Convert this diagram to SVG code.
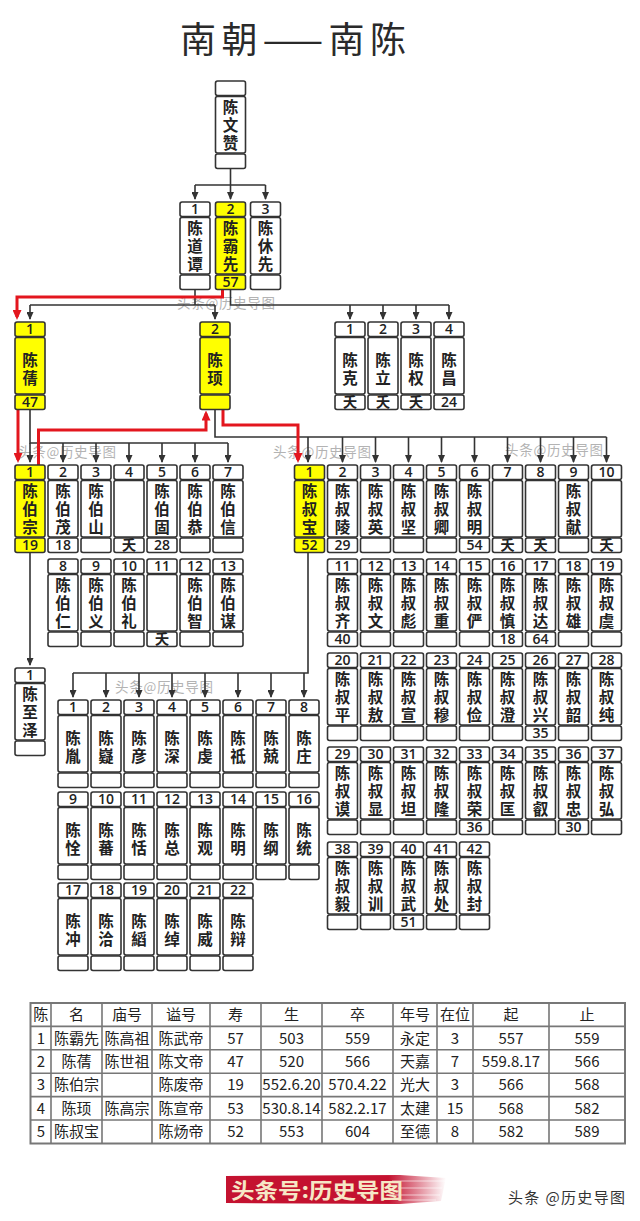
<svg xmlns="http://www.w3.org/2000/svg" width="640" height="1221" viewBox="0 0 640 1221">
<style>
.bx{fill:#fff;stroke:#333;stroke-width:1.6}
.by{fill:#ffff00;stroke:#333;stroke-width:1.6}
.num{font-family:"Open Sans","Noto Sans CJK SC",sans-serif;font-weight:600;font-size:14px;fill:#222;text-anchor:middle}
.v{font-family:"Noto Sans CJK SC",sans-serif;font-weight:700;font-size:15.5px;fill:#222;writing-mode:vertical-rl}
.k{fill:none;stroke:#333;stroke-width:1.6}
.r{fill:none;stroke:#e3161e;stroke-width:3}
.wm{font-family:"Noto Sans CJK SC",sans-serif;font-size:13.5px;fill:#9a9a9a;opacity:.75}
.tb{font-family:"Noto Sans CJK SC",sans-serif;font-size:15px;fill:#222;text-anchor:middle}
.title{font-family:"Noto Sans CJK SC",sans-serif;font-size:36px;fill:#2a2a2a;text-anchor:middle}
</style>
<defs>
<g id="fr" class="bx"><rect width="30" height="14.5" rx="2"/><rect y="15.5" width="30" height="56.5" rx="2"/><rect y="73" width="30" height="14.5" rx="2"/></g>
<g id="fy" class="by"><rect width="30" height="14.5" rx="2"/><rect y="15.5" width="30" height="56.5" rx="2"/><rect y="73" width="30" height="14.5" rx="2"/></g>
<marker id="ak" viewBox="0 0 8 7" refX="7" refY="3.5" markerWidth="8" markerHeight="7" markerUnits="userSpaceOnUse" orient="auto"><path d="M0,0 L8,3.5 L0,7 z" fill="#333"/></marker>
<marker id="ar" viewBox="0 0 10 9" refX="7" refY="4.5" markerWidth="10" markerHeight="9" markerUnits="userSpaceOnUse" orient="auto"><path d="M0,0 L10,4.5 L0,9 z" fill="#e3161e"/></marker>
<linearGradient id="brush" x1="0" x2="1" y1="0" y2="0"><stop offset="0" stop-color="#c41230"/><stop offset="0.74" stop-color="#c41230"/><stop offset="1" stop-color="#c41230" stop-opacity="0"/></linearGradient>
</defs>
<rect width="640" height="1221" fill="#fff"/>
<text class="title" x="293" y="52.5" textLength="226" lengthAdjust="spacing">南朝——南陈</text>

<g id="watermarks">
<text class="wm" x="177" y="307.5" textLength="98">头条@历史导图</text>
<text class="wm" x="18" y="457" textLength="98">头条@历史导图</text>
<text class="wm" x="273" y="457" textLength="98">头条@历史导图</text>
<text class="wm" x="505" y="455" textLength="98">头条@历史导图</text>
<text class="wm" x="115" y="692" textLength="98">头条@历史导图</text>
</g>

<g id="connectors">
<path class="k" d="M230.5,168.5V185M195,185H265.5"/>
<path class="k" marker-end="url(#ak)" d="M195,185V199"/>
<path class="k" marker-end="url(#ak)" d="M230.5,185V199"/>
<path class="k" marker-end="url(#ak)" d="M265.5,185V199"/>
<path class="k" d="M195,289.5V305M30,305H215"/>
<path class="k" marker-end="url(#ak)" d="M30,305V319"/>
<path class="k" marker-end="url(#ak)" d="M215,305V319"/>
<path class="k" d="M230.5,289.5V305H449"/>
<path class="k" marker-end="url(#ak)" d="M350,305V319"/>
<path class="k" marker-end="url(#ak)" d="M383,305V319"/>
<path class="k" marker-end="url(#ak)" d="M416,305V319"/>
<path class="k" marker-end="url(#ak)" d="M449,305V319"/>
<path class="k" d="M30,409.5V443H228"/>
<path class="k" marker-end="url(#ak)" d="M30,443V462"/>
<path class="k" marker-end="url(#ak)" d="M63,443V462"/>
<path class="k" marker-end="url(#ak)" d="M96,443V462"/>
<path class="k" marker-end="url(#ak)" d="M129,443V462"/>
<path class="k" marker-end="url(#ak)" d="M162,443V462"/>
<path class="k" marker-end="url(#ak)" d="M195,443V462"/>
<path class="k" marker-end="url(#ak)" d="M228,443V462"/>
<path class="k" d="M215,409.5V437H606.5"/>
<path class="k" marker-end="url(#ak)" d="M308,437V462"/>
<path class="k" marker-end="url(#ak)" d="M342.5,437V462"/>
<path class="k" marker-end="url(#ak)" d="M375.5,437V462"/>
<path class="k" marker-end="url(#ak)" d="M408.5,437V462"/>
<path class="k" marker-end="url(#ak)" d="M441.5,437V462"/>
<path class="k" marker-end="url(#ak)" d="M474.5,437V462"/>
<path class="k" marker-end="url(#ak)" d="M507.5,437V462"/>
<path class="k" marker-end="url(#ak)" d="M540.5,437V462"/>
<path class="k" marker-end="url(#ak)" d="M573.5,437V462"/>
<path class="k" marker-end="url(#ak)" d="M606.5,437V462"/>
<path class="k" marker-end="url(#ak)" d="M30,552.5V665"/>
<path class="k" d="M308,552.5V673H73"/>
<path class="k" marker-end="url(#ak)" d="M73,673V697"/>
<path class="k" marker-end="url(#ak)" d="M106,673V697"/>
<path class="k" marker-end="url(#ak)" d="M139,673V697"/>
<path class="k" marker-end="url(#ak)" d="M172,673V697"/>
<path class="k" marker-end="url(#ak)" d="M205,673V697"/>
<path class="k" marker-end="url(#ak)" d="M238,673V697"/>
<path class="k" marker-end="url(#ak)" d="M271,673V697"/>
<path class="k" marker-end="url(#ak)" d="M304,673V697"/>
<path class="r" marker-end="url(#ar)" d="M222.5,289.5V297H17V317"/>
<path class="r" marker-end="url(#ar)" d="M18,409.5V460"/>
<path class="r" marker-end="url(#ar)" d="M38.5,465V430H206V413.5"/>
<path class="r" marker-end="url(#ar)" d="M223,409.5V425H298V460"/>
</g>

<g id="n-chenwenzan"><use href="#fr" x="215.5" y="81"/><text class="v" x="230.5" y="99.2 117.4 135.6">陈文赞</text></g>

<g id="n-chendaotan"><use href="#fr" x="180" y="202"/><text class="num" x="195" y="214.4">1</text><text class="v" x="195" y="220.2 238.4 256.6">陈道谭</text></g>
<g id="n-chenbaxian"><use href="#fy" x="215.5" y="202"/><text class="num" x="230.5" y="214.4">2</text><text class="v" x="230.5" y="220.2 238.4 256.6">陈霸先</text><text class="num" x="230.5" y="287">57</text></g>
<g id="n-chenxiuxian"><use href="#fr" x="250.5" y="202"/><text class="num" x="265.5" y="214.4">3</text><text class="v" x="265.5" y="220.2 238.4 256.6">陈休先</text></g>

<g id="n-chenqian"><use href="#fy" x="15" y="322"/><text class="num" x="30" y="334.4">1</text><text class="v" x="30" y="352.25 370.25">陈蒨</text><text class="num" x="30" y="407.3">47</text></g>
<g id="n-chenxu"><use href="#fy" x="200" y="322"/><text class="num" x="215" y="334.4">2</text><text class="v" x="215" y="352.25 370.25">陈顼</text></g>
<g id="n-chenke"><use href="#fr" x="335" y="322"/><text class="num" x="350" y="334.4">1</text><text class="v" x="350" y="352.25 370.25">陈克</text><text class="num" x="350" y="407.3">夭</text></g>
<g id="n-chenli"><use href="#fr" x="368" y="322"/><text class="num" x="383" y="334.4">2</text><text class="v" x="383" y="352.25 370.25">陈立</text><text class="num" x="383" y="407.3">夭</text></g>
<g id="n-chenquan"><use href="#fr" x="401" y="322"/><text class="num" x="416" y="334.4">3</text><text class="v" x="416" y="352.25 370.25">陈权</text><text class="num" x="416" y="407.3">夭</text></g>
<g id="n-chenchang"><use href="#fr" x="434" y="322"/><text class="num" x="449" y="334.4">4</text><text class="v" x="449" y="352.25 370.25">陈昌</text><text class="num" x="449" y="407.3">24</text></g>

<g id="n-chenbozong"><use href="#fy" x="15" y="465"/><text class="num" x="30" y="477.4">1</text><text class="v" x="30" y="483.2 501.4 519.6">陈伯宗</text><text class="num" x="30" y="550.3">19</text></g>
<g id="n-chenbomao"><use href="#fr" x="48" y="465"/><text class="num" x="63" y="477.4">2</text><text class="v" x="63" y="483.2 501.4 519.6">陈伯茂</text><text class="num" x="63" y="550.3">18</text></g>
<g id="n-chenboshan"><use href="#fr" x="81" y="465"/><text class="num" x="96" y="477.4">3</text><text class="v" x="96" y="483.2 501.4 519.6">陈伯山</text></g>
<g id="n-bo4"><use href="#fr" x="114" y="465"/><text class="num" x="129" y="477.4">4</text><text class="num" x="129" y="550.3">夭</text></g>
<g id="n-chenbogu"><use href="#fr" x="147" y="465"/><text class="num" x="162" y="477.4">5</text><text class="v" x="162" y="483.2 501.4 519.6">陈伯固</text><text class="num" x="162" y="550.3">28</text></g>
<g id="n-chenbogong"><use href="#fr" x="180" y="465"/><text class="num" x="195" y="477.4">6</text><text class="v" x="195" y="483.2 501.4 519.6">陈伯恭</text></g>
<g id="n-chenboxin"><use href="#fr" x="213" y="465"/><text class="num" x="228" y="477.4">7</text><text class="v" x="228" y="483.2 501.4 519.6">陈伯信</text></g>
<g id="n-chenboren"><use href="#fr" x="48" y="559"/><text class="num" x="63" y="571.4">8</text><text class="v" x="63" y="577.2 595.4 613.6">陈伯仁</text></g>
<g id="n-chenboyi"><use href="#fr" x="81" y="559"/><text class="num" x="96" y="571.4">9</text><text class="v" x="96" y="577.2 595.4 613.6">陈伯义</text></g>
<g id="n-chenboli"><use href="#fr" x="114" y="559"/><text class="num" x="129" y="571.4">10</text><text class="v" x="129" y="577.2 595.4 613.6">陈伯礼</text></g>
<g id="n-bo11"><use href="#fr" x="147" y="559"/><text class="num" x="162" y="571.4">11</text><text class="num" x="162" y="644.3">夭</text></g>
<g id="n-chenbozhi"><use href="#fr" x="180" y="559"/><text class="num" x="195" y="571.4">12</text><text class="v" x="195" y="577.2 595.4 613.6">陈伯智</text></g>
<g id="n-chenbomou"><use href="#fr" x="213" y="559"/><text class="num" x="228" y="571.4">13</text><text class="v" x="228" y="577.2 595.4 613.6">陈伯谋</text></g>

<g id="n-chenzhize"><use href="#fr" x="15" y="668"/><text class="num" x="30" y="680.4">1</text><text class="v" x="30" y="686.2 704.4 722.6">陈至泽</text></g>

<g id="n-chenshubao"><use href="#fy" x="294.5" y="465"/><text class="num" x="309.5" y="477.4">1</text><text class="v" x="309.5" y="483.2 501.4 519.6">陈叔宝</text><text class="num" x="309.5" y="550.3">52</text></g>
<g id="n-shu2"><use href="#fr" x="327.5" y="465"/><text class="num" x="342.5" y="477.4">2</text><text class="v" x="342.5" y="483.2 501.4 519.6">陈叔陵</text><text class="num" x="342.5" y="550.3">29</text></g>
<g id="n-shu3"><use href="#fr" x="360.5" y="465"/><text class="num" x="375.5" y="477.4">3</text><text class="v" x="375.5" y="483.2 501.4 519.6">陈叔英</text></g>
<g id="n-shu4"><use href="#fr" x="393.5" y="465"/><text class="num" x="408.5" y="477.4">4</text><text class="v" x="408.5" y="483.2 501.4 519.6">陈叔坚</text></g>
<g id="n-shu5"><use href="#fr" x="426.5" y="465"/><text class="num" x="441.5" y="477.4">5</text><text class="v" x="441.5" y="483.2 501.4 519.6">陈叔卿</text></g>
<g id="n-shu6"><use href="#fr" x="459.5" y="465"/><text class="num" x="474.5" y="477.4">6</text><text class="v" x="474.5" y="483.2 501.4 519.6">陈叔明</text><text class="num" x="474.5" y="550.3">54</text></g>
<g id="n-shu7"><use href="#fr" x="492.5" y="465"/><text class="num" x="507.5" y="477.4">7</text><text class="num" x="507.5" y="550.3">夭</text></g>
<g id="n-shu8"><use href="#fr" x="525.5" y="465"/><text class="num" x="540.5" y="477.4">8</text><text class="num" x="540.5" y="550.3">夭</text></g>
<g id="n-shu9"><use href="#fr" x="558.5" y="465"/><text class="num" x="573.5" y="477.4">9</text><text class="v" x="573.5" y="483.2 501.4 519.6">陈叔献</text></g>
<g id="n-shu10"><use href="#fr" x="591.5" y="465"/><text class="num" x="606.5" y="477.4">10</text><text class="num" x="606.5" y="550.3">夭</text></g>

<g id="n-shu11"><use href="#fr" x="327.5" y="559"/><text class="num" x="342.5" y="571.4">11</text><text class="v" x="342.5" y="577.2 595.4 613.6">陈叔齐</text><text class="num" x="342.5" y="644.3">40</text></g>
<g id="n-shu12"><use href="#fr" x="360.5" y="559"/><text class="num" x="375.5" y="571.4">12</text><text class="v" x="375.5" y="577.2 595.4 613.6">陈叔文</text></g>
<g id="n-shu13"><use href="#fr" x="393.5" y="559"/><text class="num" x="408.5" y="571.4">13</text><text class="v" x="408.5" y="577.2 595.4 613.6">陈叔彪</text></g>
<g id="n-shu14"><use href="#fr" x="426.5" y="559"/><text class="num" x="441.5" y="571.4">14</text><text class="v" x="441.5" y="577.2 595.4 613.6">陈叔重</text></g>
<g id="n-shu15"><use href="#fr" x="459.5" y="559"/><text class="num" x="474.5" y="571.4">15</text><text class="v" x="474.5" y="577.2 595.4 613.6">陈叔俨</text></g>
<g id="n-shu16"><use href="#fr" x="492.5" y="559"/><text class="num" x="507.5" y="571.4">16</text><text class="v" x="507.5" y="577.2 595.4 613.6">陈叔慎</text><text class="num" x="507.5" y="644.3">18</text></g>
<g id="n-shu17"><use href="#fr" x="525.5" y="559"/><text class="num" x="540.5" y="571.4">17</text><text class="v" x="540.5" y="577.2 595.4 613.6">陈叔达</text><text class="num" x="540.5" y="644.3">64</text></g>
<g id="n-shu18"><use href="#fr" x="558.5" y="559"/><text class="num" x="573.5" y="571.4">18</text><text class="v" x="573.5" y="577.2 595.4 613.6">陈叔雄</text></g>
<g id="n-shu19"><use href="#fr" x="591.5" y="559"/><text class="num" x="606.5" y="571.4">19</text><text class="v" x="606.5" y="577.2 595.4 613.6">陈叔虞</text></g>

<g id="n-shu20"><use href="#fr" x="327.5" y="653"/><text class="num" x="342.5" y="665.4">20</text><text class="v" x="342.5" y="671.2 689.4 707.6">陈叔平</text></g>
<g id="n-shu21"><use href="#fr" x="360.5" y="653"/><text class="num" x="375.5" y="665.4">21</text><text class="v" x="375.5" y="671.2 689.4 707.6">陈叔敖</text></g>
<g id="n-shu22"><use href="#fr" x="393.5" y="653"/><text class="num" x="408.5" y="665.4">22</text><text class="v" x="408.5" y="671.2 689.4 707.6">陈叔宣</text></g>
<g id="n-shu23"><use href="#fr" x="426.5" y="653"/><text class="num" x="441.5" y="665.4">23</text><text class="v" x="441.5" y="671.2 689.4 707.6">陈叔穆</text></g>
<g id="n-shu24"><use href="#fr" x="459.5" y="653"/><text class="num" x="474.5" y="665.4">24</text><text class="v" x="474.5" y="671.2 689.4 707.6">陈叔俭</text></g>
<g id="n-shu25"><use href="#fr" x="492.5" y="653"/><text class="num" x="507.5" y="665.4">25</text><text class="v" x="507.5" y="671.2 689.4 707.6">陈叔澄</text></g>
<g id="n-shu26"><use href="#fr" x="525.5" y="653"/><text class="num" x="540.5" y="665.4">26</text><text class="v" x="540.5" y="671.2 689.4 707.6">陈叔兴</text><text class="num" x="540.5" y="738.3">35</text></g>
<g id="n-shu27"><use href="#fr" x="558.5" y="653"/><text class="num" x="573.5" y="665.4">27</text><text class="v" x="573.5" y="671.2 689.4 707.6">陈叔韶</text></g>
<g id="n-shu28"><use href="#fr" x="591.5" y="653"/><text class="num" x="606.5" y="665.4">28</text><text class="v" x="606.5" y="671.2 689.4 707.6">陈叔纯</text></g>

<g id="n-shu29"><use href="#fr" x="327.5" y="747"/><text class="num" x="342.5" y="759.4">29</text><text class="v" x="342.5" y="765.2 783.4 801.6">陈叔谟</text></g>
<g id="n-shu30"><use href="#fr" x="360.5" y="747"/><text class="num" x="375.5" y="759.4">30</text><text class="v" x="375.5" y="765.2 783.4 801.6">陈叔显</text></g>
<g id="n-shu31"><use href="#fr" x="393.5" y="747"/><text class="num" x="408.5" y="759.4">31</text><text class="v" x="408.5" y="765.2 783.4 801.6">陈叔坦</text></g>
<g id="n-shu32"><use href="#fr" x="426.5" y="747"/><text class="num" x="441.5" y="759.4">32</text><text class="v" x="441.5" y="765.2 783.4 801.6">陈叔隆</text></g>
<g id="n-shu33"><use href="#fr" x="459.5" y="747"/><text class="num" x="474.5" y="759.4">33</text><text class="v" x="474.5" y="765.2 783.4 801.6">陈叔荣</text><text class="num" x="474.5" y="832.3">36</text></g>
<g id="n-shu34"><use href="#fr" x="492.5" y="747"/><text class="num" x="507.5" y="759.4">34</text><text class="v" x="507.5" y="765.2 783.4 801.6">陈叔匡</text></g>
<g id="n-shu35"><use href="#fr" x="525.5" y="747"/><text class="num" x="540.5" y="759.4">35</text><text class="v" x="540.5" y="765.2 783.4 801.6">陈叔叡</text></g>
<g id="n-shu36"><use href="#fr" x="558.5" y="747"/><text class="num" x="573.5" y="759.4">36</text><text class="v" x="573.5" y="765.2 783.4 801.6">陈叔忠</text><text class="num" x="573.5" y="832.3">30</text></g>
<g id="n-shu37"><use href="#fr" x="591.5" y="747"/><text class="num" x="606.5" y="759.4">37</text><text class="v" x="606.5" y="765.2 783.4 801.6">陈叔弘</text></g>

<g id="n-shu38"><use href="#fr" x="327.5" y="842"/><text class="num" x="342.5" y="854.4">38</text><text class="v" x="342.5" y="860.2 878.4 896.6">陈叔毅</text></g>
<g id="n-shu39"><use href="#fr" x="360.5" y="842"/><text class="num" x="375.5" y="854.4">39</text><text class="v" x="375.5" y="860.2 878.4 896.6">陈叔训</text></g>
<g id="n-shu40"><use href="#fr" x="393.5" y="842"/><text class="num" x="408.5" y="854.4">40</text><text class="v" x="408.5" y="860.2 878.4 896.6">陈叔武</text><text class="num" x="408.5" y="927.3">51</text></g>
<g id="n-shu41"><use href="#fr" x="426.5" y="842"/><text class="num" x="441.5" y="854.4">41</text><text class="v" x="441.5" y="860.2 878.4 896.6">陈叔处</text></g>
<g id="n-shu42"><use href="#fr" x="459.5" y="842"/><text class="num" x="474.5" y="854.4">42</text><text class="v" x="474.5" y="860.2 878.4 896.6">陈叔封</text></g>

<g id="n-s1"><use href="#fr" x="58" y="700"/><text class="num" x="73" y="712.4">1</text><text class="v" x="73" y="730.25 748.25">陈胤</text></g>
<g id="n-s2"><use href="#fr" x="91" y="700"/><text class="num" x="106" y="712.4">2</text><text class="v" x="106" y="730.25 748.25">陈嶷</text></g>
<g id="n-s3"><use href="#fr" x="124" y="700"/><text class="num" x="139" y="712.4">3</text><text class="v" x="139" y="730.25 748.25">陈彦</text></g>
<g id="n-s4"><use href="#fr" x="157" y="700"/><text class="num" x="172" y="712.4">4</text><text class="v" x="172" y="730.25 748.25">陈深</text></g>
<g id="n-s5"><use href="#fr" x="190" y="700"/><text class="num" x="205" y="712.4">5</text><text class="v" x="205" y="730.25 748.25">陈虔</text></g>
<g id="n-s6"><use href="#fr" x="223" y="700"/><text class="num" x="238" y="712.4">6</text><text class="v" x="238" y="730.25 748.25">陈祗</text></g>
<g id="n-s7"><use href="#fr" x="256" y="700"/><text class="num" x="271" y="712.4">7</text><text class="v" x="271" y="730.25 748.25">陈兢</text></g>
<g id="n-s8"><use href="#fr" x="289" y="700"/><text class="num" x="304" y="712.4">8</text><text class="v" x="304" y="730.25 748.25">陈庄</text></g>
<g id="n-s9"><use href="#fr" x="58" y="792"/><text class="num" x="73" y="804.4">9</text><text class="v" x="73" y="822.25 840.25">陈恮</text></g>
<g id="n-s10"><use href="#fr" x="91" y="792"/><text class="num" x="106" y="804.4">10</text><text class="v" x="106" y="822.25 840.25">陈蕃</text></g>
<g id="n-s11"><use href="#fr" x="124" y="792"/><text class="num" x="139" y="804.4">11</text><text class="v" x="139" y="822.25 840.25">陈恬</text></g>
<g id="n-s12"><use href="#fr" x="157" y="792"/><text class="num" x="172" y="804.4">12</text><text class="v" x="172" y="822.25 840.25">陈总</text></g>
<g id="n-s13"><use href="#fr" x="190" y="792"/><text class="num" x="205" y="804.4">13</text><text class="v" x="205" y="822.25 840.25">陈观</text></g>
<g id="n-s14"><use href="#fr" x="223" y="792"/><text class="num" x="238" y="804.4">14</text><text class="v" x="238" y="822.25 840.25">陈明</text></g>
<g id="n-s15"><use href="#fr" x="256" y="792"/><text class="num" x="271" y="804.4">15</text><text class="v" x="271" y="822.25 840.25">陈纲</text></g>
<g id="n-s16"><use href="#fr" x="289" y="792"/><text class="num" x="304" y="804.4">16</text><text class="v" x="304" y="822.25 840.25">陈统</text></g>
<g id="n-s17"><use href="#fr" x="58" y="883"/><text class="num" x="73" y="895.4">17</text><text class="v" x="73" y="913.25 931.25">陈冲</text></g>
<g id="n-s18"><use href="#fr" x="91" y="883"/><text class="num" x="106" y="895.4">18</text><text class="v" x="106" y="913.25 931.25">陈洽</text></g>
<g id="n-s19"><use href="#fr" x="124" y="883"/><text class="num" x="139" y="895.4">19</text><text class="v" x="139" y="913.25 931.25">陈縚</text></g>
<g id="n-s20"><use href="#fr" x="157" y="883"/><text class="num" x="172" y="895.4">20</text><text class="v" x="172" y="913.25 931.25">陈绰</text></g>
<g id="n-s21"><use href="#fr" x="190" y="883"/><text class="num" x="205" y="895.4">21</text><text class="v" x="205" y="913.25 931.25">陈威</text></g>
<g id="n-s22"><use href="#fr" x="223" y="883"/><text class="num" x="238" y="895.4">22</text><text class="v" x="238" y="913.25 931.25">陈辩</text></g>

<g id="table">
<rect x="30.5" y="1003" width="594.5" height="140.5" fill="#fff" stroke="#777" stroke-width="2"/>
<path d="M51,1003V1143.5M102,1003V1143.5M152,1003V1143.5M210,1003V1143.5M261,1003V1143.5M322,1003V1143.5M393,1003V1143.5M437,1003V1143.5M473,1003V1143.5M549,1003V1143.5M30.5,1026.4H625M30.5,1049.8H625M30.5,1073.2H625M30.5,1096.6H625M30.5,1120H625" fill="none" stroke="#777" stroke-width="1.6"/>
<text class="tb" y="1020.1"><tspan x="40.8">陈</tspan><tspan x="76.5">名</tspan><tspan x="127">庙号</tspan><tspan x="181">谥号</tspan><tspan x="235.5">寿</tspan><tspan x="291.5">生</tspan><tspan x="357.5">卒</tspan><tspan x="415">年号</tspan><tspan x="455">在位</tspan><tspan x="511">起</tspan><tspan x="587">止</tspan></text>
<text class="tb" y="1043.5"><tspan x="40.8">1</tspan><tspan x="76.5">陈霸先</tspan><tspan x="127">陈高祖</tspan><tspan x="181">陈武帝</tspan><tspan x="235.5">57</tspan><tspan x="291.5">503</tspan><tspan x="357.5">559</tspan><tspan x="415">永定</tspan><tspan x="455">3</tspan><tspan x="511">557</tspan><tspan x="587">559</tspan></text>
<text class="tb" y="1066.9"><tspan x="40.8">2</tspan><tspan x="76.5">陈蒨</tspan><tspan x="127">陈世祖</tspan><tspan x="181">陈文帝</tspan><tspan x="235.5">47</tspan><tspan x="291.5">520</tspan><tspan x="357.5">566</tspan><tspan x="415">天嘉</tspan><tspan x="455">7</tspan><tspan x="511">559.8.17</tspan><tspan x="587">566</tspan></text>
<text class="tb" y="1090.3"><tspan x="40.8">3</tspan><tspan x="76.5">陈伯宗</tspan><tspan x="181">陈废帝</tspan><tspan x="235.5">19</tspan><tspan x="291.5">552.6.20</tspan><tspan x="357.5">570.4.22</tspan><tspan x="415">光大</tspan><tspan x="455">3</tspan><tspan x="511">566</tspan><tspan x="587">568</tspan></text>
<text class="tb" y="1113.7"><tspan x="40.8">4</tspan><tspan x="76.5">陈顼</tspan><tspan x="127">陈高宗</tspan><tspan x="181">陈宣帝</tspan><tspan x="235.5">53</tspan><tspan x="291.5">530.8.14</tspan><tspan x="357.5">582.2.17</tspan><tspan x="415">太建</tspan><tspan x="455">15</tspan><tspan x="511">568</tspan><tspan x="587">582</tspan></text>
<text class="tb" y="1137.1"><tspan x="40.8">5</tspan><tspan x="76.5">陈叔宝</tspan><tspan x="181">陈炀帝</tspan><tspan x="235.5">52</tspan><tspan x="291.5">553</tspan><tspan x="357.5">604</tspan><tspan x="415">至德</tspan><tspan x="455">8</tspan><tspan x="511">582</tspan><tspan x="587">589</tspan></text>
</g>

<g id="banner">
<path d="M226,1176 L400,1175 L446,1178 L441,1201 L400,1204 L226,1203 Z" fill="url(#brush)"/>
<path d="M392,1181H446M398,1188H442M390,1195H440M400,1200H436" stroke="#fff" stroke-width="1.2" opacity="0.6" fill="none"/>
<text x="231" y="1198" textLength="172" lengthAdjust="spacingAndGlyphs" style="font-family:'Noto Sans CJK SC',sans-serif;font-weight:700;font-size:21px;fill:#f6e7c6">头条号:历史导图</text>
</g>
<text x="508" y="1203" textLength="117" style="font-family:'Noto Sans CJK SC',sans-serif;font-size:15px;fill:#333">头条 @历史导图</text>
</svg>
